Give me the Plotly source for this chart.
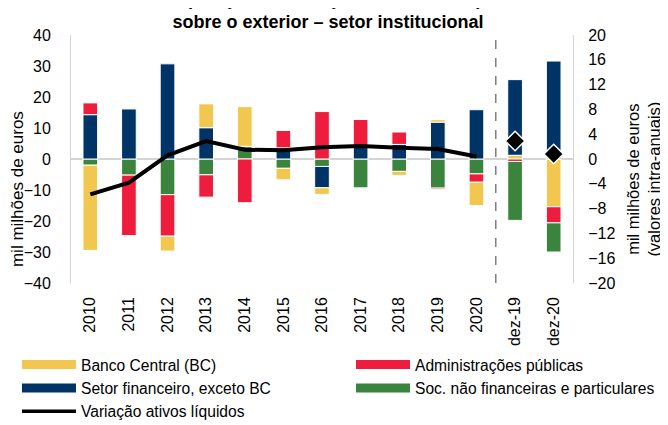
import plotly.graph_objects as go

# ---------------- data ----------------
years = ['2010', '2011', '2012', '2013', '2014', '2015', '2016', '2017', '2018', '2019', '2020']
dez = ['dez-19', 'dez-20']
all_cats = years + dez

# annual values (left axis, mil milhões de euros)
bc = [-27.5, 0.3, -4.8, 7.7, 12.8, -3.7, -2.1, 0.0, -1.3, 0.8, -7.5]
adm = [3.8, -19.5, -13.4, -7.2, -14.1, 5.6, 15.3, 8.4, 4.0, -0.4, -2.7]
fin = [14.3, 16.2, 30.7, 10.1, 0.0, 3.6, -6.9, 4.4, 4.7, 11.9, 15.9]
soc = [-2.0, -5.2, -11.5, -5.1, 4.1, -3.0, -2.4, -9.3, -4.0, -9.4, -4.8]

# intra-annual values (right axis)
bc_d = [0.6, -7.7]
adm_d = [-0.4, -2.6]
fin_d = [12.2, 15.8]
soc_d = [-9.5, -4.7]

# net assets change (right axis)
line_years = [-5.7, -3.8, 0.6, 2.9, 1.5, 1.4, 1.9, 2.1, 1.8, 1.6, 0.4]
line_dez = [2.9, 0.8]

names = ['Banco Central (BC)', 'Administrações públicas',
         'Setor financeiro, exceto BC', 'Soc. não financeiras e particulares']
line_name = 'Variação ativos líquidos'

C_BC = '#F2C74F'
C_ADM = '#EE1C3D'
C_FIN = '#003366'
C_SOC = '#3B843D'

FONT = 'Liberation Sans Narrow, Arial Narrow, Liberation Sans, Arial'
BW = 0.38

fig = go.Figure()

# annual bars (stack order: green, blue, red, yellow)
for vals, col in [(soc, C_SOC), (fin, C_FIN), (adm, C_ADM), (bc, C_BC)]:
    fig.add_trace(go.Bar(x=years, y=vals, marker=dict(color=col, line=dict(color='white', width=1)),
                         width=BW, showlegend=False, yaxis='y'))

# intra-annual bars (stack order: yellow, red, blue, green)
for vals, col in [(bc_d, C_BC), (adm_d, C_ADM), (fin_d, C_FIN), (soc_d, C_SOC)]:
    fig.add_trace(go.Bar(x=dez, y=vals, marker=dict(color=col, line=dict(color='white', width=1)),
                         width=BW, showlegend=False, yaxis='y2'))

fig.add_trace(go.Scatter(x=years, y=line_years, mode='lines', line=dict(color='black', width=4),
                         showlegend=False, yaxis='y2'))
fig.add_trace(go.Scatter(x=dez, y=line_dez, mode='markers',
                         marker=dict(symbol='diamond', size=15, color='black', line=dict(color='white', width=1.5)),
                         showlegend=False, yaxis='y2'))

# legend entries: left column (legend) and right column (legend2)
legend_cols = {names[0]: ('legend', C_BC), names[1]: ('legend2', C_ADM),
               names[2]: ('legend', C_FIN), names[3]: ('legend2', C_SOC)}
for nm in names:
    lg, col = legend_cols[nm]
    fig.add_trace(go.Scatter(x=[None], y=[None], mode='lines', name=nm, legend=lg,
                             line=dict(color=col, width=9)))
fig.add_trace(go.Scatter(x=[None], y=[None], mode='lines', name=line_name, legend='legend',
                         line=dict(color='black', width=3.5)))

fig.add_shape(type='line', xref='x', yref='paper', x0=10.5, x1=10.5, y0=0, y1=1,
              line=dict(color='#7F7F7F', width=1.5, dash='dash'))

legend_common = dict(orientation='v', xref='container', yref='container', y=0.1847,
                     xanchor='left', yanchor='top', itemwidth=54, font=dict(size=15.6),
                     traceorder='normal', tracegroupgap=0, bgcolor='rgba(0,0,0,0)')

# the page body adds an 8px offset, so the figure is 660x417 inside the 668x425 window
fig.update_layout(
    width=660, height=417,
    margin=dict(l=63, r=95, t=27, b=142, autoexpand=False),
    paper_bgcolor='white', plot_bgcolor='white',
    barmode='relative',
    font=dict(family=FONT, size=16, color='black'),
    xaxis=dict(type='category', categoryorder='array', categoryarray=all_cats,
               range=[-0.5, 12.5], tickangle=-90, showgrid=False, ticks='',
               ticklabelstandoff=10, tickfont=dict(size=16), automargin=False),
    yaxis=dict(range=[-40, 40], dtick=10, showgrid=False, zeroline=True, zerolinecolor='#D4D4D4',
               zerolinewidth=1.5, showline=True, linecolor='#D4D4D4', linewidth=1,
               ticks='', ticklabelstandoff=16, tickfont=dict(size=16), automargin=False),
    yaxis2=dict(range=[-20, 20], dtick=4, overlaying='y', side='right', showgrid=False,
                zeroline=False, showline=True, linecolor='#D4D4D4', linewidth=1,
                ticks='', ticklabelstandoff=11, tickfont=dict(size=16), automargin=False),
    legend=dict(x=0.0136, **legend_common),
    legend2=dict(x=0.5197, **legend_common),
    showlegend=True,
)

fig.add_annotation(text='<b>Decomposição da variação dos ativos líquidos</b><br><b>sobre o exterior – setor institucional</b>',
                   xref='paper', yref='paper', x=0.512, y=1.0, yanchor='bottom', yshift=1,
                   showarrow=False, font=dict(size=18, family=FONT))
fig.add_annotation(text='mil milhões de euros', xref='paper', yref='paper', x=-0.107, y=0.38,
                   xanchor='center', yanchor='middle',
                   textangle=-90, showarrow=False, font=dict(size=17, family=FONT))
fig.add_annotation(text='mil milhões de euros<br>(valores intra-anuais)', xref='paper', yref='paper',
                   x=1.141, y=0.42, xanchor='center', yanchor='middle',
                   textangle=-90, showarrow=False, font=dict(size=16.5, family=FONT))

fig.write_html('out.html')
